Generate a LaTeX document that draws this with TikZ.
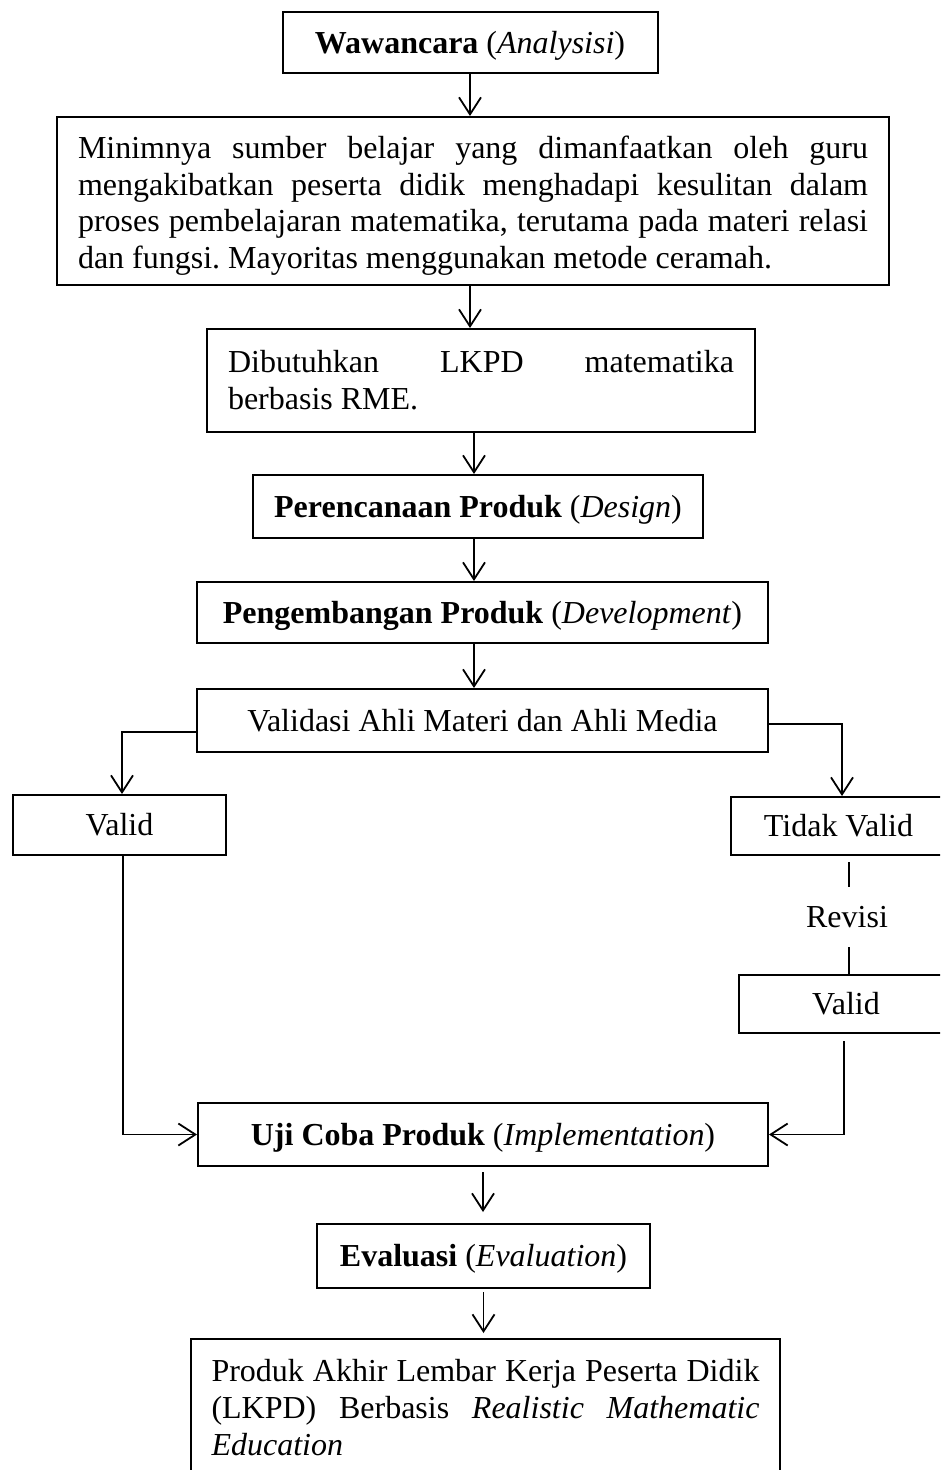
\documentclass[tikz,border=0pt]{standalone}
\usepackage{fontspec}
\setmainfont{Liberation Serif}
\usetikzlibrary{arrows.meta,calc}
\frenchspacing

\begin{document}
\begin{tikzpicture}[x=1pt,y=-1pt,
  frame/.style={draw, line width=2pt, inner sep=0pt, font=\fontsize{32}{36.8}\selectfont\frenchspacing},
  box/.style={frame, align=center, text height=22pt, text depth=1pt},
  para/.style={frame, align=justify, inner xsep=21pt},
  plain/.style={inner sep=0pt, align=center, font=\fontsize{32}{36.8}\selectfont},
  conn/.style={line width=1.8pt},
  arr/.style={conn, -{Straight Barb[length=17pt,width=22pt,line width=1.8pt]}}
]
\useasboundingbox (0,0) rectangle (940,1470);
\fill[white] (0,0) rectangle (940,1470);
\clip (0,0) rectangle (940,1470);

% main column
\node[box, minimum width=375pt, minimum height=61pt] (w1) at (470,42.5)
  {\textbf{Wawancara} (\textit{Analysisi})};
\node[para, text width=790pt, minimum height=168pt] (w2) at (473,201)
  {\rule{0pt}{32pt}Minimnya sumber belajar yang dimanfaatkan oleh guru\linebreak
   mengakibatkan peserta didik menghadapi kesulitan dalam\linebreak
   proses pembelajaran matematika, terutama pada materi relasi\linebreak
   dan fungsi. Mayoritas menggunakan metode ceramah.};
\node[para, text width=506pt, minimum height=103pt] (w3) at (481,380.5)
  {Dibutuhkan LKPD matematika\linebreak berbasis RME.};
\node[box, minimum width=450pt, minimum height=63pt] (p4) at (478,506.5)
  {\textbf{Perencanaan Produk} (\textit{Design})};
\node[box, minimum width=571pt, minimum height=61pt] (p5) at (482.5,612.5)
  {\textbf{Pengembangan Produk} (\textit{Development})};
\node[box, minimum width=571pt, minimum height=63pt] (v6) at (482.5,720.5)
  {Validasi Ahli Materi dan Ahli Media};

% branches
\node[box, minimum width=213pt, minimum height=60pt] (valA) at (119.5,825) {Valid};
\node[box, minimum width=215pt, minimum height=58pt] (tv) at (838.5,826) {Tidak Valid};
\node[plain, minimum height=60pt] (rev) at (847,917) {Revisi};
\node[box, minimum width=214pt, minimum height=58pt] (val2) at (846,1004) {Valid};

% lower column
\node[box, minimum width=570pt, minimum height=63pt] (uji) at (483,1134.5)
  {\textbf{Uji Coba Produk} (\textit{Implementation})};
\node[box, minimum width=333pt, minimum height=64pt] (ev) at (483.5,1256)
  {\textbf{Evaluasi} (\textit{Evaluation})};
\node[para, text width=548pt, inner xsep=20.5pt, minimum height=141pt] (fin) at (485.5,1409.5)
  {Produk Akhir Lembar Kerja Peserta Didik\linebreak
   (LKPD) Berbasis \textit{Realistic Mathematic}\linebreak
   \textit{Education}\rule[-4pt]{0pt}{4pt}};

% connectors
\draw[arr] (w1.south) -- (w1.south |- w2.north);
\draw[arr] (w1.south |- w2.south) -- (w1.south |- w3.north);
\draw[arr] ([xshift=-4pt]p4.north |- w3.south) -- ([xshift=-4pt]p4.north);
\draw[arr] ([xshift=-4pt]p4.south) -- ([xshift=-4pt]p4.south |- p5.north);
\draw[arr] ([xshift=-4pt]p4.south |- p5.south) -- ([xshift=-4pt]p4.south |- v6.north);

\draw[arr] ([yshift=-11.5pt]v6.west) -| ([xshift=2.5pt]valA.north);
\draw[arr] ([yshift=-3.5pt]v6.east) -| ([xshift=3.5pt]tv.north);

\draw[conn, shorten <=6pt] ([xshift=2pt]rev.north |- tv.south) -- ([xshift=2pt]rev.north);
\draw[conn] ([xshift=2pt]rev.south) -- ([xshift=2pt]rev.south |- val2.north);

\draw[arr, shorten <=7pt] ([xshift=-2pt]val2.south) |- (uji.east);
\draw[arr] ([xshift=3.5pt]valA.south) |- (uji.west);

\draw[arr, shorten <=5pt, shorten >=11pt] (uji.south) -- (uji.south |- ev.north);
\draw[arr, shorten <=3pt, shorten >=5pt] (ev.south) -- (ev.south |- fin.north);
\end{tikzpicture}
\end{document}
